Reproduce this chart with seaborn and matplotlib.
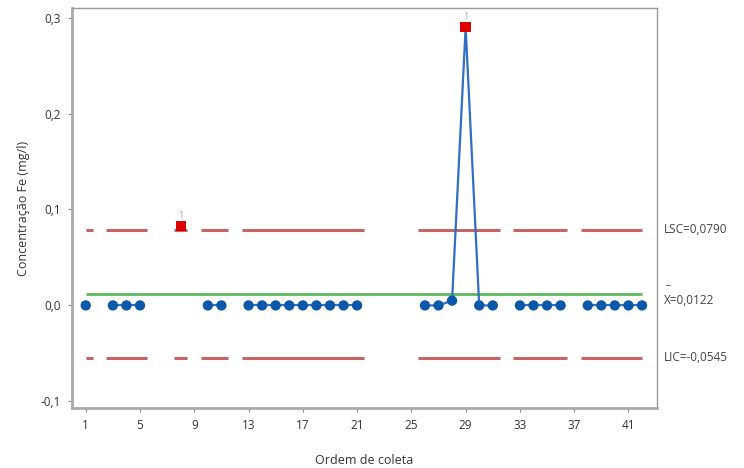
import numpy as np
import pandas as pd
import matplotlib
matplotlib.use("Agg")
import matplotlib.pyplot as plt
import seaborn as sns

# ---- data ----
ordem = [1, 3, 4, 5, 8, 10, 11, 13, 14, 15, 16, 17, 18, 19, 20, 21,
         26, 27, 28, 29, 30, 31, 33, 34, 35, 36, 38, 39, 40, 41, 42]
conc = [0.0, 0.0, 0.0, 0.0, 0.083, 0.0, 0.0, 0.0, 0.0, 0.0, 0.0, 0.0, 0.0, 0.0, 0.0, 0.0,
        0.0, 0.0, 0.005, 0.29, 0.0, 0.0, 0.0, 0.0, 0.0, 0.0, 0.0, 0.0, 0.0, 0.0, 0.0]
lsc = 0.0790
media = 0.0122
lic = -0.0545
xticks = [1, 5, 9, 13, 17, 21, 25, 29, 33, 37, 41]
yticks = [-0.1, 0.0, 0.1, 0.2, 0.3]
limit_labels = ["LSC=0,0790", "X=0,0122", "LIC=-0,0545"]

df = pd.DataFrame({"ordem": ordem, "conc": conc})
# consecutive runs (line breaks where observations are missing)
df["run"] = (df["ordem"].diff() != 1).cumsum()
df["fora"] = (df["conc"] > lsc) | (df["conc"] < lic)

sns.set_theme(style="white")
plt.rcParams["font.family"] = ["Open Sans", "DejaVu Sans"]

fig = plt.figure(figsize=(7.44, 4.68), dpi=100)
ax = fig.add_axes([0.097, 0.128, 0.786, 0.855])

blue_line = "#2f6fc4"
blue_pt = "#0b57a8"
red_lim = "#c46464"
green = "#5cb85c"

# control limit segments, only where data exist
for _, g in df.groupby("run"):
    x0 = max(g["ordem"].min() - 0.5, 1)
    x1 = min(g["ordem"].max() + 0.5, 42)
    ax.hlines([lsc, lic], x0, x1, color=red_lim, lw=2.2, zorder=1)

ax.hlines(media, 1, 42, color=green, lw=2.0, zorder=1)

sns.lineplot(data=df, x="ordem", y="conc", units="run", estimator=None,
             color=blue_line, lw=1.6, ax=ax, zorder=2, legend=False)
sns.scatterplot(data=df[~df["fora"]], x="ordem", y="conc", color=blue_pt,
                s=55, edgecolor="none", ax=ax, zorder=3, legend=False)
sns.scatterplot(data=df[df["fora"]], x="ordem", y="conc", color="#dd0000",
                marker="s", s=55, edgecolor="none", ax=ax, zorder=4, legend=False)
for _, r in df[df["fora"]].iterrows():
    ax.text(r["ordem"], r["conc"] + 0.006, "1", ha="center", va="bottom",
            fontsize=6.5, color="#a0a0a0")

ax.set_xlim(0.0, 43.1)
ax.set_ylim(-0.107, 0.31)
ax.set_xticks(xticks)
ax.set_xticklabels([str(t) for t in xticks], fontsize=8.5, color="#333333")
ax.set_yticks(yticks)
ax.set_yticklabels([f"{t:.1f}".replace(".", ",") for t in yticks], fontsize=8.5, color="#333333")
ax.tick_params(axis="both", direction="out", length=3, width=0.8, color="#888888",
               bottom=True, left=True, pad=5)
ax.set_xlabel("Ordem de coleta", fontsize=9, color="#333333", labelpad=16)
ax.set_ylabel("Concentração Fe (mg/l)", fontsize=9, color="#333333", labelpad=8)

for side in ["left", "bottom"]:
    ax.spines[side].set_color("#aaaaaa")
    ax.spines[side].set_linewidth(2.0)
for side in ["top", "right"]:
    ax.spines[side].set_color("#999999")
    ax.spines[side].set_linewidth(1.0)

tx = 1.012
ax.text(tx, lsc, limit_labels[0], transform=ax.get_yaxis_transform(), fontsize=8.5,
        va="center", ha="left", color="#444444")
ax.text(tx, media - 0.007, limit_labels[1], transform=ax.get_yaxis_transform(), fontsize=8.5,
        va="center", ha="left", color="#444444")
ax.text(tx + 0.001, media + 0.013, "_", transform=ax.get_yaxis_transform(), fontsize=8,
        va="center", ha="left", color="#444444")
ax.text(tx, lic, limit_labels[2], transform=ax.get_yaxis_transform(), fontsize=8.5,
        va="center", ha="left", color="#444444")

fig.savefig("out.png", dpi=100)
